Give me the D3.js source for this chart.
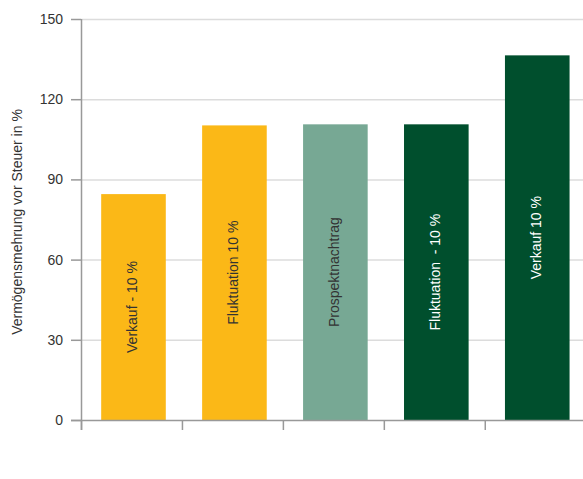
<!DOCTYPE html>
<html>
<head>
<meta charset="utf-8">
<script src="https://cdn.jsdelivr.net/npm/d3@7"></script>
<style>
  body { margin: 0; background: #fff; }
  text { font-family: "Liberation Sans", Arial, sans-serif; }
</style>
</head>
<body>
<div id="chart"></div>
<script>
var w = 583, h = 479;

// data
var labels = ["Verkauf - 10 %", "Fluktuation 10 %", "Prospektnachtrag", "Fluktuation  - 10 %", "Verkauf 10 %"];
var values = [84.5, 110.2, 110.6, 110.6, 136.4];
var colors = ["#fbb817", "#fbb817", "#77a894", "#004f2d", "#004f2d"];
var textColors = ["#333", "#333", "#333", "#fff", "#fff"];
var yTicks = [0, 30, 60, 90, 120, 150];

var axisX = 81, y0 = 420, yTop = 19;

var svg = d3.select("#chart").append("svg")
    .attr("width", w)
    .attr("height", h);

var y = d3.scaleLinear().domain([0, 150]).range([y0, yTop]);

var x = d3.scaleBand()
    .domain(d3.range(labels.length))
    .range([axisX, axisX + 5 * 101.75])
    .paddingInner(0.36)
    .paddingOuter(0.2);

// gridlines
svg.selectAll(".grid").data(yTicks.slice(1)).enter().append("line")
    .attr("x1", axisX).attr("x2", w)
    .attr("y1", function (d) { return y(d) + 0.5; })
    .attr("y2", function (d) { return y(d) + 0.5; })
    .attr("stroke", "#dcdcdc")
    .attr("stroke-width", 1.5);

// bars
svg.selectAll(".bar").data(values).enter().append("rect")
    .attr("x", function (d, i) { return x(i); })
    .attr("y", function (d) { return y(d); })
    .attr("width", x.bandwidth())
    .attr("height", function (d) { return y0 - y(d); })
    .attr("fill", function (d, i) { return colors[i]; });

// bar labels
svg.selectAll(".lbl").data(values).enter().append("text")
    .attr("transform", function (d, i) {
        var cx = x(i) + x.bandwidth() / 2 + 4;
        var cy = (y(d) + y0) / 2;
        return "translate(" + cx + "," + cy + ") rotate(-90)";
    })
    .attr("text-anchor", "middle")
    .attr("font-size", 14)
    .attr("fill", function (d, i) { return textColors[i]; })
    .style("white-space", "pre")
    .text(function (d, i) { return labels[i]; });

// y axis
var yAxis = svg.append("g");
yAxis.append("line")
    .attr("x1", axisX + 0.5).attr("x2", axisX + 0.5)
    .attr("y1", yTop).attr("y2", 430)
    .attr("stroke", "#999").attr("stroke-width", 1.5);
yAxis.selectAll(".yt").data(yTicks).enter().append("line")
    .attr("x1", 71).attr("x2", axisX)
    .attr("y1", function (d) { return y(d) + 0.5; })
    .attr("y2", function (d) { return y(d) + 0.5; })
    .attr("stroke", "#999").attr("stroke-width", 1.5);
yAxis.selectAll(".yl").data(yTicks).enter().append("text")
    .attr("x", 63)
    .attr("y", function (d) { return y(d) + 5; })
    .attr("text-anchor", "end")
    .attr("font-size", 14)
    .attr("fill", "#333")
    .text(function (d) { return d; });

svg.append("text")
    .attr("transform", "translate(22," + 222 + ") rotate(-90)")
    .attr("text-anchor", "middle")
    .attr("font-size", 14)
    .attr("fill", "#333")
    .text("Vermögensmehrung vor Steuer in %");

// x axis
svg.append("line")
    .attr("x1", 71).attr("x2", w)
    .attr("y1", y0 + 0.5).attr("y2", y0 + 0.5)
    .attr("stroke", "#999").attr("stroke-width", 1.5);
svg.selectAll(".xt").data(d3.range(labels.length)).enter().append("line")
    .attr("x1", function (d) { return axisX + 0.5 + d * x.step(); })
    .attr("x2", function (d) { return axisX + 0.5 + d * x.step(); })
    .attr("y1", y0).attr("y2", 430)
    .attr("stroke", "#999").attr("stroke-width", 1.5);
</script>
</body>
</html>
